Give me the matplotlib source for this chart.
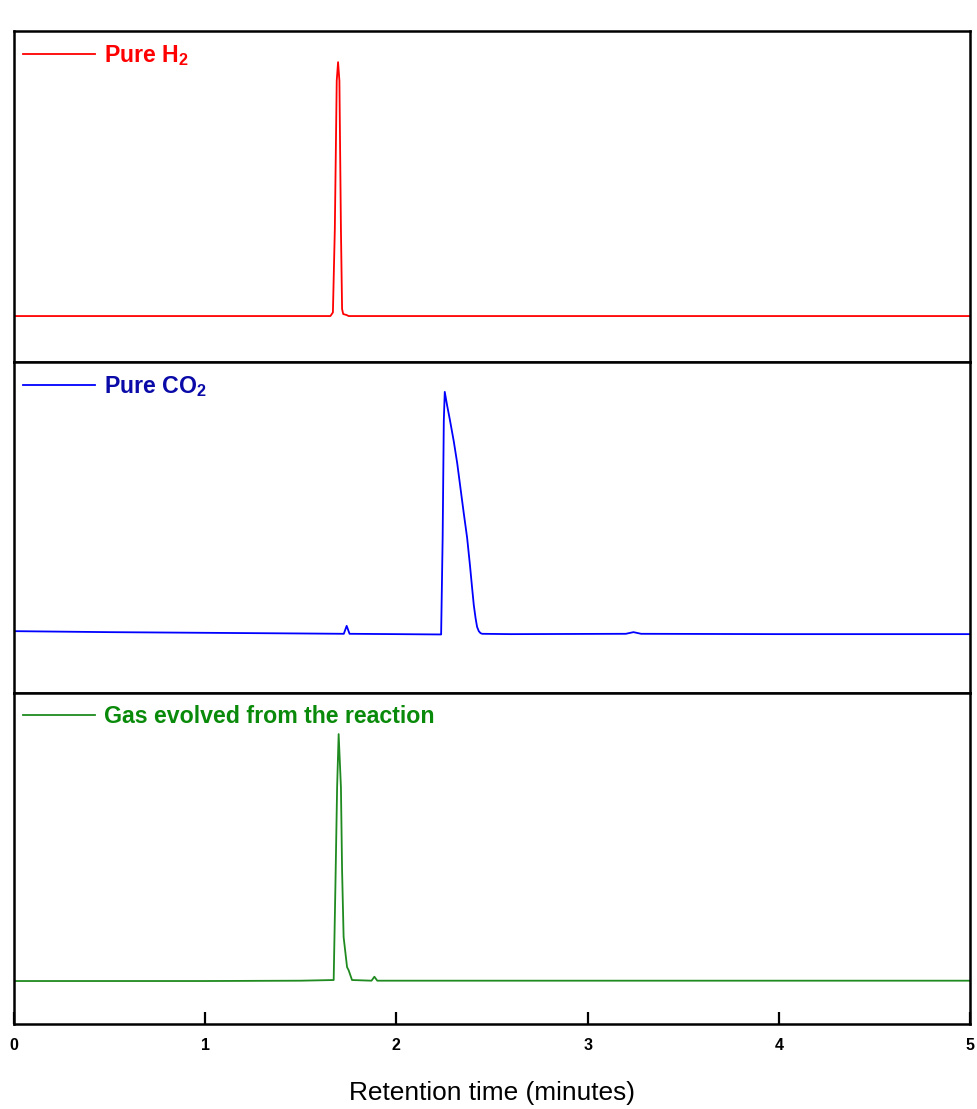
import matplotlib
matplotlib.use("Agg")
import matplotlib.pyplot as plt

plt.rcParams['font.family'] = ['Liberation Sans', 'DejaVu Sans']
plt.rcParams['mathtext.fontset'] = 'custom'
plt.rcParams['mathtext.bf'] = 'Liberation Sans:bold'
plt.rcParams['mathtext.rm'] = 'Liberation Sans:bold'
plt.rcParams['mathtext.default'] = 'bf'

# ---- data (retention time in minutes, signal in arbitrary units per panel) ----
h2_time = [0.0, 1.655, 1.668, 1.678, 1.688, 1.695, 1.702, 1.710, 1.716, 1.722, 1.740, 1.750, 5.0]
h2_signal = [13.9, 13.9, 15.0, 40.0, 85.0, 90.6, 85.0, 40.0, 16.0, 14.5, 14.2, 13.9, 13.9]

co2_time = [0.0, 0.5, 1.0, 1.5, 1.725, 1.74, 1.755, 2.0, 2.234, 2.242, 2.248, 2.253,
            2.265, 2.280, 2.300, 2.318, 2.335, 2.352, 2.370, 2.385, 2.396, 2.405,
            2.414, 2.422, 2.431, 2.440, 2.449, 2.6, 3.2, 3.24, 3.28, 4.0, 5.0]
co2_signal = [18.7, 18.4, 18.2, 18.0, 17.9, 20.3, 17.9, 17.8, 17.7, 46.9, 82.2, 91.0,
              87.0, 82.5, 76.1, 69.5, 62.0, 54.5, 46.9, 38.5, 31.8, 26.5,
              22.7, 20.0, 18.7, 18.1, 17.9, 17.8, 17.9, 18.4, 17.9, 17.8, 17.8]

gas_time = [0.0, 0.5, 1.0, 1.5, 1.672, 1.681, 1.690, 1.698, 1.710, 1.716, 1.724, 1.742,
            1.750, 1.768, 1.870, 1.885, 1.900, 2.5, 3.5, 5.0]
gas_signal = [13.0, 13.0, 13.0, 13.1, 13.3, 41.4, 71.5, 87.6, 71.5, 46.4, 26.3, 17.2,
              16.3, 13.3, 13.1, 14.3, 13.1, 13.1, 13.1, 13.1]

labels = ['Pure H$_2$', 'Pure CO$_2$', 'Gas evolved from the reaction']
line_colors = ['#ff0000', '#0000ff', '#1f8a1f']
text_colors = ['#ff0000', '#0a0aa8', '#0a8a0a']
xticks = [0, 1, 2, 3, 4, 5]

fig = plt.figure(figsize=(9.78, 11.09), dpi=100)
axes = fig.subplots(3, 1, sharex=True, gridspec_kw=dict(hspace=0))
fig.subplots_adjust(left=0.0143, right=0.9918, top=0.972, bottom=0.0766)

series = [(h2_time, h2_signal), (co2_time, co2_signal), (gas_time, gas_signal)]
for ax, (t, s), lab, lc, tc in zip(axes, series, labels, line_colors, text_colors):
    ax.plot(t, s, color=lc, lw=1.3, label=lab)
    ax.set_ylim(0, 100)
    ax.set_xlim(0, 5)
    ax.set_yticks([])
    for sp in ax.spines.values():
        sp.set_linewidth(1.8)
    ax.tick_params(axis='x', which='both', bottom=False, top=False, labelbottom=False)
    leg = ax.legend(loc='upper left', bbox_to_anchor=(0.0094, 0.965), frameon=False,
                    handlelength=3.1, handletextpad=0.4, borderpad=0.0,
                    borderaxespad=0.0, prop=dict(size=16.7, weight='bold'))
    for txt in leg.get_texts():
        txt.set_color(tc)

axb = axes[-1]
axb.set_xticks(xticks)
axb.tick_params(axis='x', bottom=True, labelbottom=True, direction='in', length=9,
                width=1.6, labelsize=11.5, pad=10)
for lbl in axb.get_xticklabels():
    lbl.set_fontweight('bold')
axb.set_xlabel('Retention time (minutes)', fontsize=18.9, labelpad=20)

fig.savefig('out.png', dpi=100)
